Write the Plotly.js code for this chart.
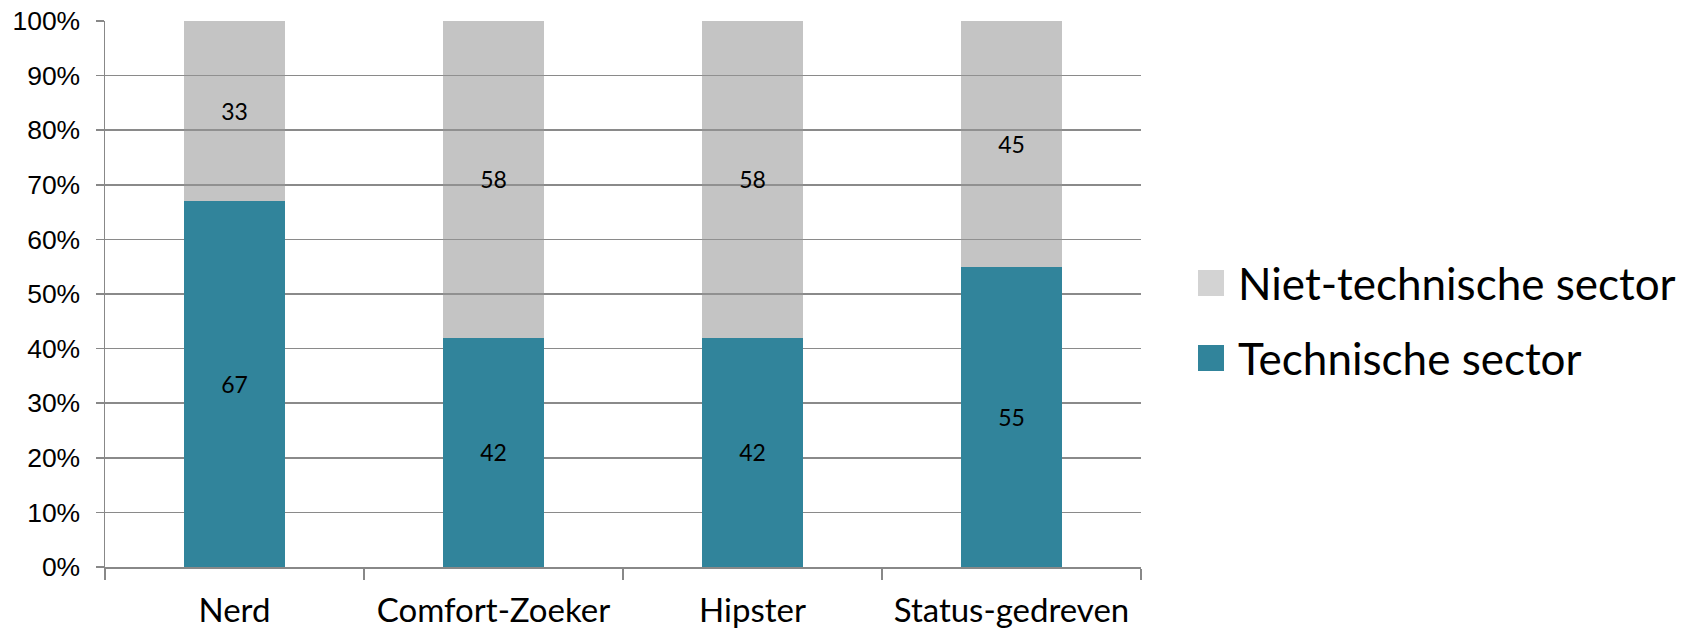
<!DOCTYPE html>
<html>
<head>
<meta charset="utf-8">
<script src="https://cdn.plot.ly/plotly-3.0.1.min.js"></script>
<style>html,body{margin:0;padding:0;background:#fff;}#chart{width:1688px;height:633px;}</style>
</head>
<body>
<div id="chart"></div>
<script>
const categories = ["Nerd", "Comfort-Zoeker", "Hipster", "Status-gedreven"];
const techniek = [67, 42, 42, 55];
const nietTechniek = [33, 58, 58, 45];
const seriesNames = ["Technische sector", "Niet-technische sector"];
const yTickValues = [0, 10, 20, 30, 40, 50, 60, 70, 80, 90, 100];
const yTickLabels = ["0%", "10%", "20%", "30%", "40%", "50%", "60%", "70%", "80%", "90%", "100%"];
const seriesColors = ["#31849B", "rgba(150,150,150,0.56)"];
const legendSwatch = ["#31849B", "#D3D3D3"];

const labelFont = {family: "Lato, 'Open Sans', sans-serif", size: 23, color: "#000"};

const traces = [
  {type: "bar", name: seriesNames[0], x: categories, y: techniek, width: 0.39,
   marker: {color: seriesColors[0]}, text: techniek.map(String), textposition: "inside",
   insidetextanchor: "middle", textfont: labelFont, showlegend: false, hoverinfo: "x+y+name"},
  {type: "bar", name: seriesNames[1], x: categories, y: nietTechniek, width: 0.39,
   marker: {color: seriesColors[1]}, text: nietTechniek.map(String), textposition: "inside",
   insidetextanchor: "middle", textfont: labelFont, showlegend: false, hoverinfo: "x+y+name"}
];

const L = 105, R = 1141, T = 21, B = 567;
const px2x = p => (p - L) / (R - L);
const py2y = p => (B - p) / (B - T);
const legendRows = [{name: seriesNames[1], color: legendSwatch[1], y: 283},
                    {name: seriesNames[0], color: legendSwatch[0], y: 358}];

const shapes = legendRows.map(r => ({
  type: "rect", xref: "paper", yref: "paper", xsizemode: "pixel", ysizemode: "pixel",
  xanchor: px2x(1211), yanchor: py2y(r.y), x0: -13, x1: 13, y0: -13, y1: 13,
  fillcolor: r.color, line: {width: 0}
}));
const annotations = legendRows.map(r => ({
  xref: "paper", yref: "paper", x: px2x(1236), y: py2y(r.y), xanchor: "left", yanchor: "middle",
  text: r.name, showarrow: false,
  font: {family: "Lato, 'Open Sans', sans-serif", size: 44, color: "#000"}
}));

const layout = {
  width: 1688, height: 633,
  margin: {l: L, r: 1688 - R, t: T, b: 633 - B, pad: 0},
  paper_bgcolor: "#fff", plot_bgcolor: "#fff",
  barmode: "stack",
  showlegend: false,
  xaxis: {
    type: "category", tickson: "boundaries", ticks: "outside", ticklen: 11, tickwidth: 1.5,
    tickcolor: "#888", showline: true, linecolor: "#888", linewidth: 1.5,
    showgrid: false, automargin: false, ticklabelstandoff: 14,
    tickfont: {family: "Lato, 'Open Sans', sans-serif", size: 33, color: "#000"}
  },
  yaxis: {
    range: [0, 100], tickmode: "array", tickvals: yTickValues, ticktext: yTickLabels,
    ticks: "outside", ticklen: 8, tickwidth: 1.5, tickcolor: "#888",
    showline: true, linecolor: "#888", linewidth: 1.5,
    showgrid: true, gridcolor: "#8a8a8a", gridwidth: 1.5, zeroline: false,
    automargin: false, ticklabelstandoff: 10,
    tickfont: {family: "'Liberation Sans', Arial, sans-serif", size: 26.5, color: "#000"}
  },
  shapes: shapes,
  annotations: annotations
};

Plotly.newPlot("chart", traces, layout, {displayModeBar: false, staticPlot: true});
</script>
</body>
</html>
